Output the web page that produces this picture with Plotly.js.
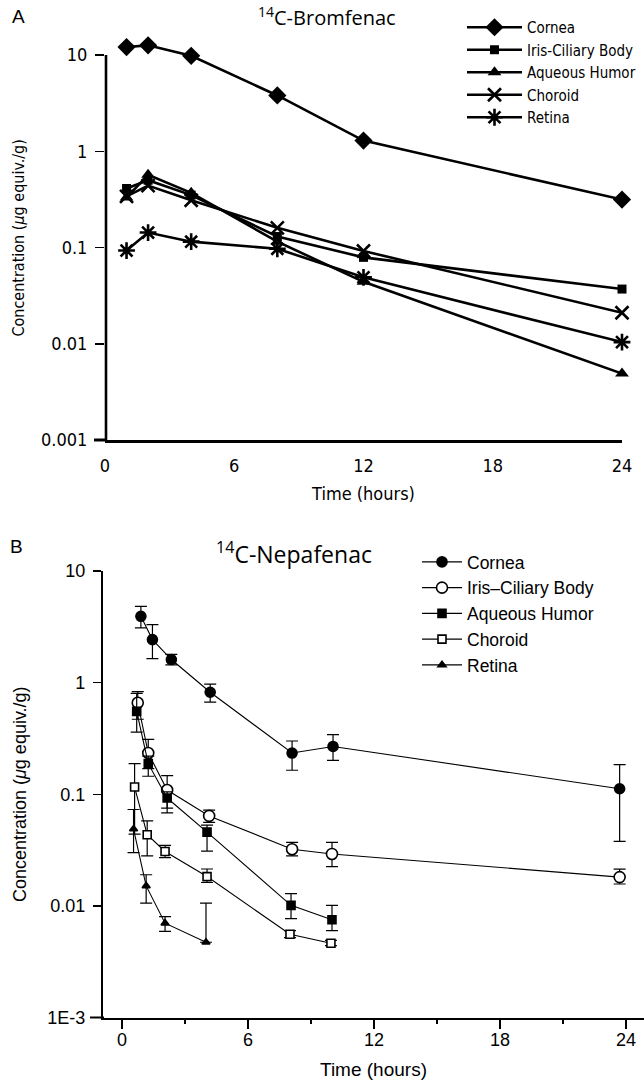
<!DOCTYPE html>
<html>
<head>
<meta charset="utf-8">
<script src="https://cdn.plot.ly/plotly-3.0.1.min.js"></script>
<style>html,body{margin:0;padding:0;background:#fff;}#chart{width:644px;height:1082px;}</style>
</head>
<body>
<div id="chart"></div>
<script>
// ---------- Panel A : 14C-Bromfenac ----------
var timesA = [1, 2, 4, 8, 12, 24];
var corneaA   = [12.1, 12.6, 9.8, 3.8, 1.29, 0.315];
var irisA     = [0.41, 0.50, 0.35, 0.13, 0.079, 0.037];
var aqueousA  = [0.33, 0.57, 0.37, 0.115, 0.044, 0.0049];
var choroidA  = [0.34, 0.44, 0.31, 0.16, 0.092, 0.021];
var retinaA   = [0.093, 0.143, 0.115, 0.097, 0.049, 0.0104];

// ---------- Panel B : 14C-Nepafenac ----------
var corneaBx  = [0.9, 1.45, 2.35, 4.2, 8.1, 10.05, 23.7];
var corneaB   = [3.93, 2.43, 1.61, 0.82, 0.234, 0.268, 0.112];
var corneaBhi = [4.83, 3.31, 1.79, 0.97, 0.30, 0.342, 0.184];
var corneaBlo = [3.09, 1.64, 1.44, 0.67, 0.164, 0.201, 0.0378];

var irisBx  = [0.75, 1.25, 2.15, 4.15, 8.1, 10.0, 23.7];
var irisB   = [0.66, 0.234, 0.109, 0.064, 0.0322, 0.0292, 0.0181];
var irisBhi = [0.83, 0.31, 0.147, 0.072, 0.037, 0.037, 0.0213];
var irisBlo = [0.47, 0.17, 0.075, 0.056, 0.028, 0.0225, 0.0157];

var aqueousBx  = [0.7, 1.25, 2.15, 4.05, 8.05, 10.0];
var aqueousB   = [0.553, 0.188, 0.0925, 0.0458, 0.0101, 0.0075];
var aqueousBhi = [0.80, 0.22, 0.105, 0.053, 0.0129, 0.0101];
var aqueousBlo = [0.36, 0.145, 0.068, 0.031, 0.0077, 0.006];

var choroidBx  = [0.6, 1.2, 2.05, 4.05, 8.0, 9.95];
var choroidB   = [0.116, 0.0434, 0.0307, 0.0183, 0.00557, 0.00463];
var choroidBhi = [0.188, 0.0578, 0.0348, 0.0214, 0.0060, 0.0049];
var choroidBlo = [0.044, 0.028, 0.027, 0.0162, 0.0052, 0.0044];

var retinaBx  = [0.55, 1.15, 2.05, 4.0];
var retinaB   = [0.0488, 0.0151, 0.0070, 0.00472];
var retinaBhi = [0.073, 0.019, 0.0080, 0.0106];
var retinaBlo = [0.030, 0.0106, 0.0059, 0.00472];

var seriesNames = ['Cornea', 'Iris-Ciliary Body', 'Aqueous Humor', 'Choroid', 'Retina'];
var seriesNamesB = ['Cornea', 'Iris\u2013Ciliary Body', 'Aqueous Humor', 'Choroid', 'Retina'];

var tickValsLog = [0.001, 0.01, 0.1, 1, 10];
var tickTextA = ['0.001', '0.01', '0.1', '1', '10'];
var tickTextB = ['1E-3', '0.01', '0.1', '1', '10'];
var timeTicks = [0, 6, 12, 18, 24];

var W = 644, H = 1082;
var narrow = '"Liberation Sans Narrow", "Arial Narrow", "DejaVu Sans Condensed", "Liberation Sans", Arial, sans-serif';
var reg = '"Liberation Sans", Arial, Helvetica, sans-serif';
var human = '"Open Sans", "Noto Sans", sans-serif';

function diff(a, b) { return a.map(function (v, i) { return Math.max(0, v - b[i]); }); }

function traceA(y, name, symbol, size, lw) {
  return {
    type: 'scatter', mode: 'lines+markers', x: timesA, y: y, name: name,
    xaxis: 'x', yaxis: 'y', legend: 'legend', cliponaxis: false,
    line: {color: '#000', width: 2.6},
    marker: {symbol: symbol, size: size, color: '#000', line: {color: '#000', width: lw}}
  };
}

function traceB(x, y, hi, lo, name, symbol, size, fill) {
  return {
    type: 'scatter', mode: 'lines+markers', x: x, y: y, name: name,
    xaxis: 'x2', yaxis: 'y2', legend: 'legend2', cliponaxis: false,
    line: {color: '#000', width: 1.1},
    marker: {symbol: symbol, size: size, color: fill, line: {color: '#000', width: 1.6}},
    error_y: {type: 'data', symmetric: false, array: diff(hi, y), arrayminus: diff(y, lo),
              color: '#000', thickness: 1.2, width: 6}
  };
}

var data = [
  traceA(corneaA, seriesNames[0], 'diamond', 14, 0),
  traceA(irisA, seriesNames[1], 'square', 9, 0),
  traceA(aqueousA, seriesNames[2], 'triangle-up', 12, 0),
  traceA(choroidA, seriesNames[3], 'x-thin-open', 13, 2.6),
  traceA(retinaA, seriesNames[4], 'asterisk-open', 14, 2.6),
  traceB(corneaBx, corneaB, corneaBhi, corneaBlo, seriesNamesB[0], 'circle', 10, '#000'),
  traceB(irisBx, irisB, irisBhi, irisBlo, seriesNamesB[1], 'circle', 11, '#fff'),
  traceB(aqueousBx, aqueousB, aqueousBhi, aqueousBlo, seriesNamesB[2], 'square', 8, '#000'),
  traceB(choroidBx, choroidB, choroidBhi, choroidBlo, seriesNamesB[3], 'square', 8, '#fff'),
  traceB(retinaBx, retinaB, retinaBhi, retinaBlo, seriesNamesB[4], 'triangle-up', 7, '#000')
];

// panel A geometry: 10 at y=55px, 0.001 at y=440px; range extended above 10 so the top points stay visible
var decA = (440 - 55) / 4;
var topA = 1.2;
var topApx = 55 - (topA - 1) * decA;

var layout = {
  width: W, height: H,
  margin: {l: 0, r: 0, t: 0, b: 0},
  paper_bgcolor: '#fff', plot_bgcolor: 'rgba(0,0,0,0)',
  showlegend: true,
  xaxis: {
    domain: [105 / W, 622 / W], anchor: 'y', range: [0, 24],
    tickvals: timeTicks, ticks: '', showgrid: false, zeroline: false,
    showline: true, linecolor: '#000', linewidth: 3,
    tickfont: {family: narrow, size: 18, color: '#000'}, ticklabelstandoff: 7,
    title: {text: 'Time (hours)', font: {family: narrow, size: 18, color: '#000'}, standoff: 13}
  },
  yaxis: {
    domain: [1 - 440 / H, 1 - topApx / H], anchor: 'x', type: 'log', range: [-3, topA],
    tickvals: tickValsLog, ticktext: tickTextA, ticks: 'outside', ticklen: 9, tickwidth: 1.5, tickcolor: '#000',
    showgrid: false, zeroline: false, showline: false,
    tickfont: {family: narrow, size: 18, color: '#000'}, ticklabelstandoff: 4,
    title: {text: 'Concentration (<i>\u03bc</i>g equiv./g)', font: {family: narrow, size: 16, color: '#000'}, standoff: 12}
  },
  xaxis2: {
    domain: [103 / W, 1], anchor: 'y2', range: [-0.905, 24.86],
    tickvals: timeTicks, ticks: 'outside', ticklen: 9, tickwidth: 1.5, tickcolor: '#000',
    minor: {dtick: 3, tick0: 0, ticks: 'outside', ticklen: 4, tickwidth: 1.5, tickcolor: '#000'},
    showgrid: false, zeroline: false, showline: true, linecolor: '#000', linewidth: 2,
    tickfont: {family: reg, size: 18, color: '#000'}, ticklabelstandoff: -4,
    title: {text: 'Time (hours)', font: {family: reg, size: 19, color: '#000'}, standoff: 14}
  },
  yaxis2: {
    domain: [1 - 1017.5 / H, 1 - 571 / H], anchor: 'x2', type: 'log', range: [-3, 1],
    tickvals: tickValsLog, ticktext: tickTextB, ticks: 'outside', ticklen: 8, tickwidth: 1.5, tickcolor: '#000',
    showgrid: false, zeroline: false, showline: true, linecolor: '#000', linewidth: 2.2,
    tickfont: {family: reg, size: 18, color: '#000'}, ticklabelstandoff: 4,
    title: {text: 'Concentration (<i>\u03bc</i>g equiv./g)', font: {family: reg, size: 18, color: '#000'}, standoff: 16}
  },
  legend: {
    x: 462 / W, y: 1 - 11 / H, xanchor: 'left', yanchor: 'top',
    bgcolor: 'rgba(0,0,0,0)', borderwidth: 0, itemwidth: 55, tracegroupgap: 0,
    font: {family: narrow, size: 15, color: '#000'}
  },
  legend2: {
    x: 417 / W, y: 1 - 544 / H, xanchor: 'left', yanchor: 'top',
    bgcolor: 'rgba(0,0,0,0)', borderwidth: 0, itemwidth: 40, tracegroupgap: 0,
    font: {family: reg, size: 17.5, color: '#000'}
  },
  annotations: [
    {xref: 'paper', yref: 'paper', x: 10 / W, y: 1 - 17 / H, xanchor: 'left', yanchor: 'middle', showarrow: false,
     text: 'A', font: {family: reg, size: 19, color: '#000'}},
    {xref: 'paper', yref: 'paper', x: 327 / W, y: 1 - 17 / H, xanchor: 'center', yanchor: 'middle', showarrow: false,
     text: '<sup>14</sup>C-Bromfenac', font: {family: human, size: 20, color: '#000'}},
    {xref: 'paper', yref: 'paper', x: 8 / W, y: 1 - 546 / H, xanchor: 'left', yanchor: 'middle', showarrow: false,
     text: 'B', font: {family: reg, size: 19, color: '#000'}},
    {xref: 'paper', yref: 'paper', x: 294 / W, y: 1 - 553 / H, xanchor: 'center', yanchor: 'middle', showarrow: false,
     text: '<sup>14</sup>C-Nepafenac', font: {family: human, size: 23, color: '#000'}}
  ],
  shapes: [
    // panel A y-axis line from the "10" tick down to the x axis
    {type: 'line', xref: 'paper', yref: 'paper', x0: 106 / W, x1: 106 / W, y0: 1 - 440 / H, y1: 1 - 55 / H,
     line: {color: '#000', width: 2.6}},
    {type: 'line', xref: 'paper', yref: 'paper', x0: 94 / W, x1: 106 / W, y0: 1 - 440 / H, y1: 1 - 440 / H,
     line: {color: '#000', width: 3}},
    {type: 'line', xref: 'paper', yref: 'paper', x0: 90 / W, x1: 104 / W, y0: 1 - 1017.5 / H, y1: 1 - 1017.5 / H,
     line: {color: '#000', width: 2}}
  ]
};

Plotly.newPlot('chart', data, layout, {staticPlot: true, displayModeBar: false});
</script>
</body>
</html>
